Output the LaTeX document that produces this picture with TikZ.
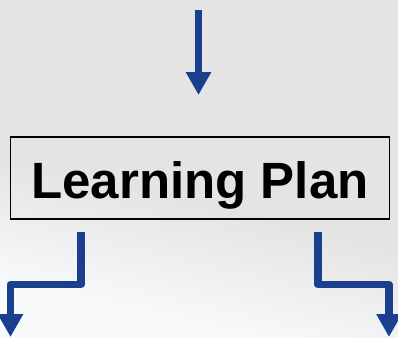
\documentclass[tikz,border=0pt]{standalone}
\usepackage{fontspec}
\setmainfont{Liberation Sans}
\usetikzlibrary{arrows.meta}
\definecolor{bggray}{RGB}{228,228,228}
\definecolor{bglight}{RGB}{249,250,252}
\definecolor{flowblue}{RGB}{27,63,143}
\pgfdeclareverticalshading{bgfade}{100bp}{color(0bp)=(bglight); color(27bp)=(bglight); color(45bp)=(bggray); color(100bp)=(bggray)}
\begin{document}
\begin{tikzpicture}[x=1pt,y=-1pt,
  flow/.style={draw=flowblue, line width=7.8pt, line join=round, -{Triangle[width=24pt,length=23pt]}},
  planbox/.style={draw=black, line width=1.3pt, minimum width=379pt, minimum height=82pt, inner sep=0pt, text height=40pt, text depth=0pt, font=\fontsize{51}{51}\selectfont\bfseries}]
\useasboundingbox (0,0) rectangle (398,337);
\shade[shading=bgfade, shading angle=-13] (0,0) rectangle (398,337);
\node[planbox] (plan) at (200,178) {Learning Plan};
\coordinate (in) at (198.5,10);
\coordinate (intip) at (198.5,95);
\coordinate (ls) at (81,232);
\coordinate (lc) at (10.5,284.5);
\coordinate (le) at (10.5,337);
\coordinate (rs) at (318,232);
\coordinate (rc) at (389,284.5);
\coordinate (re) at (389,337);
\draw[flow] (in) -- (intip);
\draw[flow] (ls) |- (lc) -- (le);
\draw[flow] (rs) |- (rc) -- (re);
\end{tikzpicture}
\end{document}
